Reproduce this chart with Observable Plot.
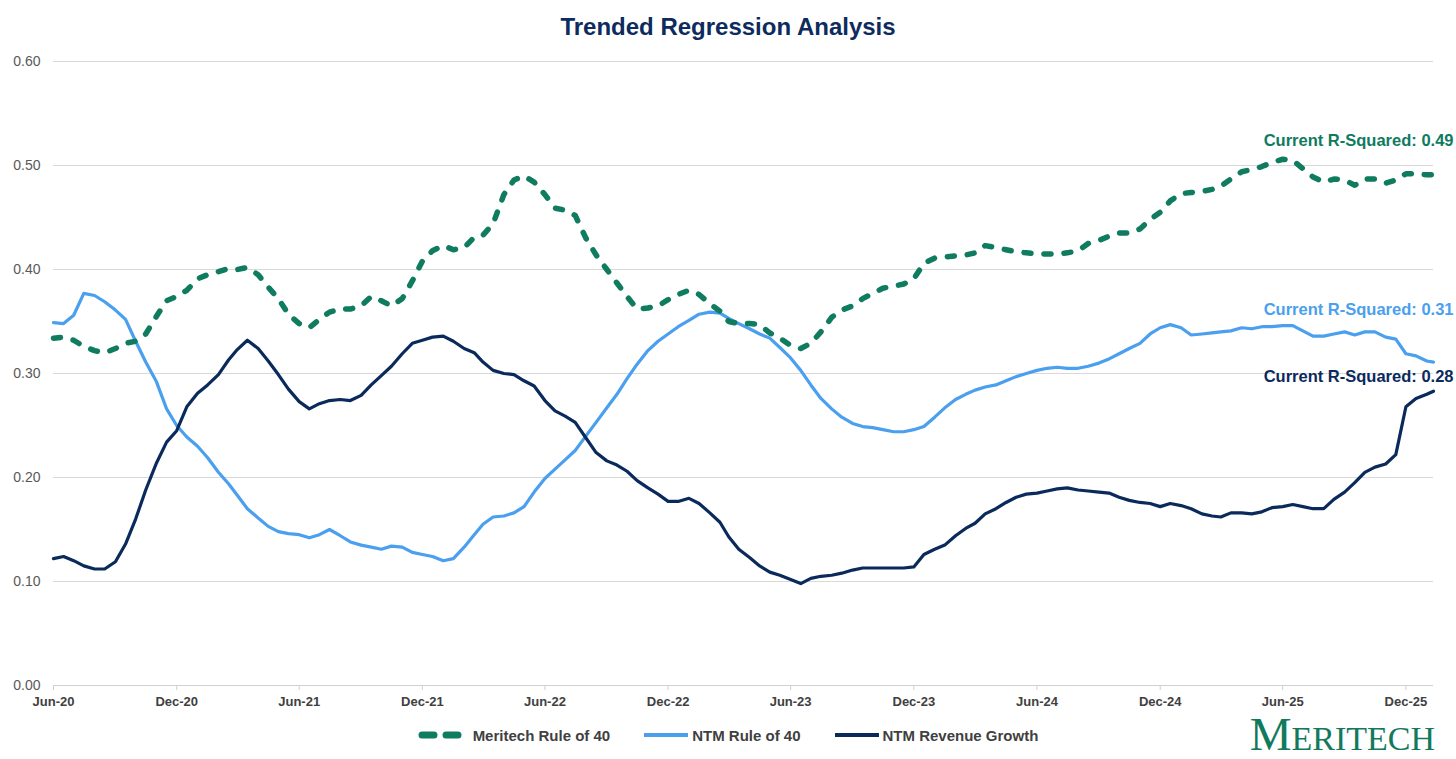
<!DOCTYPE html>
<html>
<head>
<meta charset="utf-8">
<script src="https://cdn.jsdelivr.net/npm/d3@7"></script>
<script src="https://cdn.jsdelivr.net/npm/@observablehq/plot@0.6"></script>
<style>
  html, body { margin: 0; padding: 0; background: #fff; }
  #wrap { position: relative; width: 1456px; height: 759px; overflow: hidden; font-family: "Liberation Sans", Arial, sans-serif; }
  #title { position: absolute; top: 12px; left: 0; width: 1456px; text-align: center; font-size: 24px; font-weight: bold; color: #0d2b5e; line-height: 30px; }
  #chart { position: absolute; top: 45px; left: 0; }
  #legend { position: absolute; top: 723px; left: 0; width: 1456px; height: 24px; display: flex; justify-content: center; align-items: center; font-size: 15px; font-weight: bold; color: #404040; }
  #legend .item { display: flex; align-items: center; }
  #legend svg { display: block; }
  #logo { position: absolute; right: 21px; bottom: 1px; font-family: "Liberation Serif", "DejaVu Serif", serif; color: #127a5c; line-height: 1; white-space: nowrap; }
</style>
</head>
<body>
<div id="wrap">
  <div id="title">Trended Regression Analysis</div>
  <div id="chart"></div>
  <div id="legend"></div>
  <div id="logo"><span style="font-size:47px">M</span><span style="font-size:34px">ERITECH</span></div>
</div>
<script>
// ---- Data (semi-monthly samples: 1st and 16th of each month, Jun-2020 onward, last point 11-Jan-2026) ----
const seriesNames = ["Meritech Rule of 40", "NTM Rule of 40", "NTM Revenue Growth"];

const meritechRule40 = [
  0.334,0.335,0.332,0.326,0.322,0.320,0.324,0.329,0.331,0.338,0.355,0.370,
  0.374,0.380,0.391,0.395,0.398,0.401,0.400,0.402,0.395,0.383,0.372,0.357,
  0.348,0.344,0.352,0.359,0.362,0.362,0.365,0.374,0.370,0.365,0.372,0.389,
  0.408,0.418,0.423,0.419,0.421,0.431,0.433,0.444,0.472,0.486,0.490,0.484,
  0.472,0.459,0.457,0.452,0.430,0.414,0.400,0.387,0.374,0.362,0.363,0.365,
  0.371,0.376,0.380,0.376,0.367,0.360,0.350,0.348,0.348,0.347,0.339,0.334,
  0.327,0.324,0.329,0.340,0.354,0.361,0.365,0.372,0.377,0.382,0.384,0.386,
  0.391,0.406,0.411,0.412,0.413,0.414,0.416,0.423,0.421,0.419,0.417,0.416,
  0.415,0.415,0.415,0.416,0.418,0.425,0.428,0.432,0.435,0.435,0.439,0.448,
  0.455,0.466,0.473,0.474,0.475,0.477,0.480,0.487,0.494,0.496,0.499,0.503,
  0.506,0.505,0.497,0.489,0.484,0.487,0.486,0.481,0.487,0.487,0.483,0.486,
  0.492,0.492,0.491,0.491
];

const ntmRule40 = [
  0.349,0.348,0.356,0.377,0.375,0.369,0.361,0.352,0.331,0.311,0.292,0.266,
  0.250,0.239,0.230,0.219,0.205,0.194,0.183,0.170,0.161,0.153,0.148,0.146,
  0.145,0.142,0.145,0.150,0.144,0.138,0.135,0.133,0.131,0.134,0.133,0.128,
  0.126,0.124,0.120,0.122,0.133,0.145,0.155,0.162,0.163,0.166,0.172,0.186,
  0.199,0.208,0.217,0.226,0.240,0.253,0.267,0.280,0.295,0.309,0.322,0.331,
  0.338,0.345,0.351,0.357,0.359,0.358,0.353,0.348,0.343,0.338,0.334,0.325,
  0.315,0.303,0.289,0.276,0.266,0.258,0.252,0.249,0.248,0.246,0.244,0.244,
  0.246,0.249,0.258,0.267,0.275,0.280,0.284,0.287,0.289,0.293,0.297,0.300,
  0.303,0.305,0.306,0.305,0.305,0.307,0.310,0.314,0.319,0.324,0.329,0.338,
  0.344,0.347,0.344,0.337,0.338,0.339,0.340,0.341,0.344,0.343,0.345,0.345,
  0.346,0.346,0.341,0.336,0.336,0.338,0.340,0.337,0.340,0.340,0.335,0.333,
  0.319,0.317,0.312,0.311
];

const ntmRevenueGrowth = [
  0.122,0.124,0.120,0.115,0.112,0.112,0.119,0.136,0.160,0.188,0.214,0.234,
  0.245,0.268,0.281,0.289,0.299,0.313,0.323,0.332,0.324,0.312,0.299,0.285,
  0.273,0.266,0.271,0.274,0.275,0.274,0.279,0.289,0.298,0.307,0.319,0.329,
  0.332,0.335,0.336,0.331,0.324,0.320,0.311,0.303,0.300,0.299,0.293,0.288,
  0.274,0.264,0.259,0.253,0.238,0.224,0.216,0.212,0.206,0.197,0.190,0.184,
  0.177,0.177,0.180,0.175,0.166,0.157,0.143,0.131,0.123,0.115,0.109,0.106,
  0.102,0.098,0.103,0.105,0.106,0.108,0.111,0.113,0.113,0.113,0.113,0.113,
  0.114,0.126,0.131,0.135,0.144,0.151,0.156,0.165,0.170,0.176,0.181,0.184,
  0.185,0.187,0.189,0.190,0.188,0.187,0.186,0.185,0.181,0.178,0.176,0.175,
  0.172,0.175,0.173,0.170,0.165,0.163,0.162,0.166,0.166,0.165,0.167,0.171,
  0.172,0.174,0.172,0.170,0.170,0.179,0.186,0.195,0.205,0.210,0.213,0.222,
  0.268,0.276,0.280,0.283
];

const tickDates = ["2020-06-01","2020-12-01","2021-06-01","2021-12-01","2022-06-01","2022-12-01",
                   "2023-06-01","2023-12-01","2024-06-01","2024-12-01","2025-06-01","2025-12-01"];
const tickLabels = ["Jun-20","Dec-20","Jun-21","Dec-21","Jun-22","Dec-22",
                    "Jun-23","Dec-23","Jun-24","Dec-24","Jun-25","Dec-25"];
const yTicks = [0, 0.1, 0.2, 0.3, 0.4, 0.5, 0.6];
const annotationTexts = ["Current R-Squared: 0.49", "Current R-Squared: 0.31", "Current R-Squared: 0.28"];

// ---- Build table ----
const sampleDate = k => new Date(Date.UTC(2020, 5 + Math.floor(k / 2), k % 2 ? 16 : 1));
const dates = d3.range(meritechRule40.length - 1).map(sampleDate).concat([new Date(Date.UTC(2026, 0, 11))]);
const table = dates.map((d, i) => ({date: d, meritech: meritechRule40[i], ntm40: ntmRule40[i], growth: ntmRevenueGrowth[i]}));
const last = table[table.length - 1];

const colors = {green: "#0f7b5f", light: "#4a9fee", navy: "#0b2a5c"};

const annotations = [
  {date: last.date, v: last.meritech, text: annotationTexts[0], color: colors.green, dy: -34},
  {date: last.date, v: last.ntm40, text: annotationTexts[1], color: colors.light, dy: -52},
  {date: last.date, v: last.growth, text: annotationTexts[2], color: colors.navy, dy: -14}
];

const chart = Plot.plot({
  width: 1456,
  height: 670,
  marginLeft: 53,
  marginRight: 23,
  marginTop: 16,
  marginBottom: 30,
  style: {fontFamily: "'Liberation Sans', Arial, sans-serif", overflow: "visible", background: "transparent"},
  x: {type: "utc", domain: [dates[0], last.date]},
  y: {domain: [0, 0.6]},
  marks: [
    Plot.gridY(yTicks, {stroke: "#d9d9d9", strokeOpacity: 1, strokeWidth: 1.2}),
    Plot.axisY(yTicks, {tickSize: 0, tickPadding: 13, tickFormat: d3.format(".2f"), fontSize: 14, fill: "#595959", label: null}),
    Plot.axisX(tickDates.map(s => new Date(s + "T00:00:00Z")), {
      tickSize: 5, tickPadding: 6, stroke: "#d0d0d0", fill: "#404040", fontSize: 13, fontWeight: "bold",
      tickFormat: (d, i) => tickLabels[i], label: null
    }),
    Plot.ruleY([0], {stroke: "#d0d0d0", strokeWidth: 1.2}),
    Plot.line(table, {x: "date", y: "ntm40", stroke: colors.light, strokeWidth: 3.2, strokeLinejoin: "round"}),
    Plot.line(table, {x: "date", y: "growth", stroke: colors.navy, strokeWidth: 3.2, strokeLinejoin: "round"}),
    Plot.line(table, {x: "date", y: "meritech", stroke: colors.green, strokeWidth: 5.5, strokeDasharray: "7,13", strokeLinecap: "round", strokeLinejoin: "round"}),
    ...annotations.map(a => Plot.text([a], {x: "date", y: "v", text: "text", fill: a.color, dx: 20, dy: a.dy, textAnchor: "end", fontSize: 16.5, fontWeight: "bold"}))
  ]
});
document.getElementById("chart").appendChild(chart);

// ---- Legend ----
const legend = document.getElementById("legend");
const legendItems = [
  {name: seriesNames[0], svg: `<svg width="48" height="12"><line x1="4" y1="6" x2="44" y2="6" stroke="${colors.green}" stroke-width="7" stroke-linecap="round" stroke-dasharray="12,12"/></svg>`, gap: 7, after: 33},
  {name: seriesNames[1], svg: `<svg width="46" height="12"><line x1="1" y1="6" x2="45" y2="6" stroke="${colors.light}" stroke-width="4"/></svg>`, gap: 3, after: 33},
  {name: seriesNames[2], svg: `<svg width="46" height="12"><line x1="1" y1="6" x2="45" y2="6" stroke="${colors.navy}" stroke-width="4"/></svg>`, gap: 3, after: 0}
];
legendItems.forEach(it => {
  const el = document.createElement("div");
  el.className = "item";
  el.style.marginRight = it.after + "px";
  el.innerHTML = it.svg + `<span style="margin-left:${it.gap}px">${it.name}</span>`;
  legend.appendChild(el);
});
</script>
</body>
</html>
